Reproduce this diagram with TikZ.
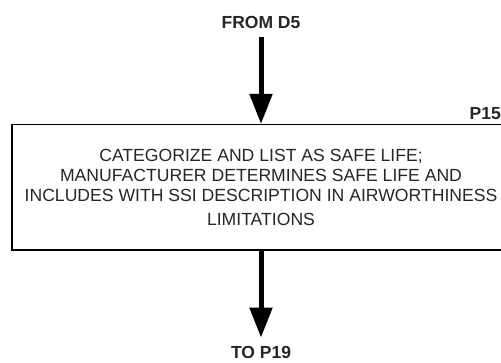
\documentclass[tikz,border=0pt]{standalone}
\usepackage{fontspec}
\setmainfont{Liberation Sans}
\usetikzlibrary{arrows.meta}
\begin{document}
\begin{tikzpicture}[x=1pt,y=-1pt,
  flowarrow/.style={line width=5pt,-{Triangle[width=22pt,length=30pt]}},
  lbl/.style={font=\fontsize{17.5}{20}\selectfont\bfseries,inner sep=0pt,text=black!85},
  procbox/.style={draw,line width=1.2pt,minimum width=498pt,minimum height=125.5pt,inner sep=0pt,align=center,
    font=\fontsize{17.6}{20}\selectfont,text=black!85}]
\useasboundingbox (0,0) rectangle (501,363);
\clip (0,0) rectangle (501,363);
\node[lbl] (from) at (261,22) {FROM D5};
\node[procbox] (box) at (261,187.3) {CATEGORIZE AND LIST AS SAFE LIFE;\\MANUFACTURER DETERMINES SAFE LIFE AND\\INCLUDES WITH SSI DESCRIPTION IN AIRWORTHINESS\\[4pt]LIMITATIONS};
\node[lbl,anchor=south east] (pid) at (501,120) {P15};
\node[lbl] (to) at (261,352) {TO P19};
\draw[flowarrow] ([yshift=-9pt]from.south) -- (box.north);
\draw[flowarrow] (box.south) -- ([yshift=8pt]to.north);
\end{tikzpicture}
\end{document}
